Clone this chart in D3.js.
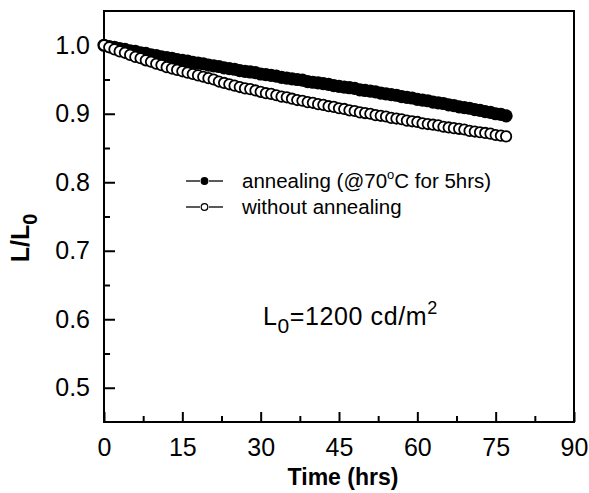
<!DOCTYPE html>
<html>
<head>
<meta charset="utf-8">
<script src="https://cdn.jsdelivr.net/npm/d3@7"></script>
<style>
    body { margin: 0; background: #fff; }
    svg { display: block; font-family: "Liberation Sans", Arial, sans-serif; }
</style>
</head>
<body>
<svg id="chart" width="589" height="493"></svg>
<script>
// time in hours
const hours = [
    0, 1, 2, 3, 4, 5, 6, 7, 8, 9, 10, 11, 12, 13, 14, 15, 16, 17, 18, 19,
    20, 21, 22, 23, 24, 25, 26, 27, 28, 29, 30, 31, 32, 33, 34, 35, 36, 37, 38, 39,
    40, 41, 42, 43, 44, 45, 46, 47, 48, 49, 50, 51, 52, 53, 54, 55, 56, 57, 58, 59,
    60, 61, 62, 63, 64, 65, 66, 67, 68, 69, 70, 71, 72, 73, 74, 75, 76, 77
];

// annealing @70C for 5hrs (filled)
const annealed = [
    1.000, 0.998, 0.997, 0.995, 0.994, 0.992, 0.991, 0.989, 0.988, 0.986,
    0.985, 0.983, 0.982, 0.981, 0.979, 0.978, 0.977, 0.975, 0.974, 0.973,
    0.971, 0.970, 0.969, 0.967, 0.966, 0.965, 0.963, 0.962, 0.961, 0.960,
    0.958, 0.957, 0.956, 0.955, 0.953, 0.952, 0.951, 0.950, 0.949, 0.947,
    0.946, 0.945, 0.944, 0.943, 0.941, 0.940, 0.939, 0.938, 0.937, 0.935,
    0.934, 0.933, 0.932, 0.930, 0.929, 0.928, 0.927, 0.925, 0.924, 0.923,
    0.921, 0.920, 0.919, 0.917, 0.916, 0.915, 0.913, 0.912, 0.910, 0.909,
    0.908, 0.906, 0.905, 0.903, 0.902, 0.900, 0.899, 0.897
];

// without annealing (open)
const notAnnealed = [
    1.000, 0.997, 0.994, 0.991, 0.989, 0.986, 0.983, 0.981, 0.978, 0.976,
    0.973, 0.971, 0.968, 0.966, 0.964, 0.962, 0.960, 0.958, 0.956, 0.954,
    0.952, 0.950, 0.947, 0.945, 0.943, 0.941, 0.939, 0.937, 0.936, 0.934,
    0.932, 0.930, 0.929, 0.927, 0.925, 0.924, 0.922, 0.920, 0.919, 0.917,
    0.916, 0.914, 0.913, 0.911, 0.910, 0.908, 0.907, 0.905, 0.904, 0.902,
    0.901, 0.900, 0.898, 0.897, 0.896, 0.894, 0.893, 0.892, 0.890, 0.889,
    0.888, 0.886, 0.885, 0.884, 0.883, 0.881, 0.880, 0.879, 0.878, 0.877,
    0.875, 0.874, 0.873, 0.872, 0.871, 0.869, 0.868, 0.867
];

const xTicks = [0, 15, 30, 45, 60, 75, 90];
const yTicks = [0.5, 0.6, 0.7, 0.8, 0.9, 1.0];
const xMinor = [7.5, 22.5, 37.5, 52.5, 67.5, 82.5];
const yMinor = [0.55, 0.65, 0.75, 0.85, 0.95];

const margin = { left: 104, top: 11, right: 15, bottom: 71 };
const width = 589 - margin.left - margin.right;
const height = 493 - margin.top - margin.bottom;

const svg = d3.select("#chart");
const g = svg.append("g").attr("transform", `translate(${margin.left},${margin.top})`);

const x = d3.scaleLinear().domain([0, 90]).range([0, width]);
const y = d3.scaleLinear().domain([0.45, 1.05]).range([height, 0]);

function styleAxis(sel) {
    sel.select(".domain").remove();
    sel.selectAll(".tick line").attr("stroke", "#000").attr("stroke-width", 2);
    sel.selectAll("text")
        .attr("font-size", 25).attr("fill", "#000")
        .attr("font-family", "Liberation Sans, Arial, sans-serif");
}

// x axis, ticks pointing inward
g.append("g")
    .attr("transform", `translate(0,${height})`)
    .call(d3.axisBottom(x).tickValues(xTicks).tickSize(-10).tickPadding(16)
        .tickFormat(d3.format("d")))
    .call(styleAxis);
g.append("g")
    .attr("transform", `translate(0,${height})`)
    .call(d3.axisBottom(x).tickValues(xMinor).tickSize(-6).tickFormat(""))
    .call(styleAxis);

// y axis
g.append("g")
    .call(d3.axisLeft(y).tickValues(yTicks).tickSize(-11).tickPadding(14)
        .tickFormat(d3.format(".1f")))
    .call(styleAxis);
g.append("g")
    .call(d3.axisLeft(y).tickValues(yMinor).tickSize(-6).tickFormat(""))
    .call(styleAxis);

// frame
g.append("rect")
    .attr("width", width)
    .attr("height", height)
    .attr("fill", "none")
    .attr("stroke", "#000")
    .attr("stroke-width", 2);

// data: filled first, open on top
const pts = hours.map((h, i) => ({ h, a: annealed[i], n: notAnnealed[i] }));

g.append("g").selectAll("circle")
    .data(pts)
    .join("circle")
    .attr("cx", d => x(d.h))
    .attr("cy", d => y(d.a))
    .attr("r", 6.6)
    .attr("fill", "#000");

g.append("g").selectAll("circle")
    .data(pts)
    .join("circle")
    .attr("cx", d => x(d.h))
    .attr("cy", d => y(d.n))
    .attr("r", 5.2)
    .attr("fill", "#fff")
    .attr("stroke", "#000")
    .attr("stroke-width", 1.8);

// legend
const legend = [
    { label: "annealing (@70", filled: true },
    { label: "without annealing", filled: false }
];
const lg = svg.append("g").attr("transform", "translate(186,181)");
legend.forEach((item, i) => {
    const row = lg.append("g").attr("transform", `translate(0,${i * 26})`);
    row.append("line").attr("x1", 0).attr("x2", 14).attr("y1", 0).attr("y2", 0)
        .attr("stroke", "#000").attr("stroke-width", 1.3);
    row.append("line").attr("x1", 23).attr("x2", 37).attr("y1", 0).attr("y2", 0)
        .attr("stroke", "#000").attr("stroke-width", 1.3);
    row.append("circle").attr("cx", 18.5).attr("cy", 0).attr("r", 3.3)
        .attr("fill", item.filled ? "#000" : "#fff")
        .attr("stroke", "#000").attr("stroke-width", 1.2);
    const t = row.append("text").attr("x", 56).attr("y", 7)
        .attr("font-size", 20.5).attr("fill", "#000").text(item.label);
    if (item.filled) {
        t.append("tspan").attr("font-size", 13).attr("dy", -9).text("o");
        t.append("tspan").attr("dy", 9).text("C for 5hrs)");
    }
});

// annotation L0 = 1200 cd/m2
const ann = svg.append("text")
    .attr("x", 263).attr("y", 325)
    .attr("font-size", 25).attr("letter-spacing", 0.6).attr("fill", "#000");
ann.append("tspan").text("L");
ann.append("tspan").attr("font-size", 21).attr("dy", 8).text("0");
ann.append("tspan").attr("dy", -8).text("=1200 cd/m");
ann.append("tspan").attr("font-size", 18).attr("dy", -11).text("2");

// axis titles
svg.append("text")
    .attr("x", margin.left + width / 2 + 4)
    .attr("y", 485)
    .attr("text-anchor", "middle")
    .attr("font-size", 23)
    .attr("font-weight", "bold")
    .text("Time (hrs)");

const yt = svg.append("text")
    .attr("transform", "translate(29,238) rotate(-90)")
    .attr("text-anchor", "middle")
    .attr("font-size", 25)
    .attr("font-weight", "bold");
yt.append("tspan").text("L/L");
yt.append("tspan").attr("font-size", 20).attr("dy", 8).text("0");
</script>
</body>
</html>
